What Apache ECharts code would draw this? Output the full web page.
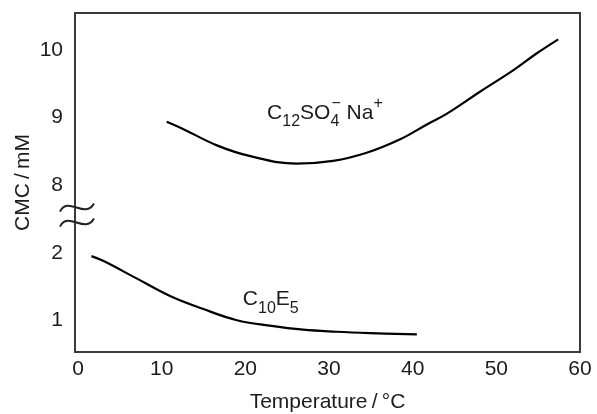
<!DOCTYPE html>
<html>
<head>
<meta charset="utf-8">
<script src="https://cdn.jsdelivr.net/npm/echarts@6/dist/echarts.min.js"></script>
<style>
  html, body { margin: 0; padding: 0; background: #fff; }
  #chart { width: 597px; height: 414px; }
</style>
</head>
<body>
<div id="chart"></div>
<script>
// values (temperature in °C, CMC in mM)
const sdsTemp = [10.6, 12.6, 16.6, 20.6, 26.1, 30.5, 34.5, 38.5, 41.7, 44.1, 48.0, 52.0, 54.8, 57.4];
const sdsCmc = [8.94, 8.83, 8.59, 8.43, 8.32, 8.36, 8.48, 8.68, 8.90, 9.06, 9.38, 9.70, 9.95, 10.16];

const c10Temp = [1.6, 3.0, 7.0, 11.0, 14.9, 19.0, 22.9, 26.9, 30.9, 34.9, 40.5];
const c10Cmc = [1.95, 1.88, 1.62, 1.36, 1.17, 1.00, 0.92, 0.86, 0.83, 0.81, 0.79];

const xTicks = [0, 10, 20, 30, 40, 50, 60];
const yTicks = [1, 2, 8, 9, 10];

// the y axis is broken between 2 and 8: upper values are shifted down by 5
const BREAK_SHIFT = 5;
const toAxis = (v) => (v > 5 ? v - BREAK_SHIFT : v);
const fromAxis = (v) => (v > 2.5 ? v + BREAK_SHIFT : v);

const FONT = 'Liberation Sans, Arial, sans-serif';
const TEXT = '#1c1c1c';
const THIN = '\u2009';

const chart = echarts.init(document.getElementById('chart'));

const pairs = (xs, ys) => xs.map((x, i) => [x, toAxis(ys[i])]);

chart.setOption({
  animation: false,
  grid: {
    left: 75, right: 17, top: 13, bottom: 62,
    outerBoundsMode: 'none',
    containLabel: false,
    show: true, borderColor: '#3a3a3a', borderWidth: 2, backgroundColor: 'transparent',
  },
  xAxis: {
    type: 'value',
    min: -0.36,
    max: 60,
    name: 'Temperature' + THIN + '/' + THIN + '°C',
    nameLocation: 'middle',
    nameGap: 40,
    nameMoveOverlap: false,
    nameTextStyle: { fontFamily: FONT, fontSize: 21, color: TEXT },
    axisLine: { show: false },
    axisTick: { show: false },
    splitLine: { show: false },
    axisLabel: {
      fontFamily: FONT, fontSize: 21, color: TEXT, margin: 7,
      showMinLabel: true, showMaxLabel: true,
      formatter: (v) => (xTicks.includes(Math.round(v * 100) / 100) ? String(v) : ''),
    },
  },
  yAxis: {
    type: 'value',
    min: 0.53,
    max: 5.55,
    name: 'CMC' + THIN + '/' + THIN + 'mM',
    nameLocation: 'middle',
    nameGap: 41,
    nameMoveOverlap: false,
    nameTextStyle: { fontFamily: FONT, fontSize: 21, color: TEXT },
    axisLine: { show: false },
    axisTick: { show: false },
    splitLine: { show: false },
    axisLabel: {
      fontFamily: FONT, fontSize: 21, color: TEXT, margin: 12,
      formatter: (v) => {
        const real = Math.round(fromAxis(v) * 100) / 100;
        return yTicks.includes(real) ? String(real) : '';
      },
    },
  },
  series: [
    {
      name: 'C12SO4- Na+',
      type: 'line',
      data: pairs(sdsTemp, sdsCmc),
      smooth: 0.4,
      symbol: 'none',
      lineStyle: { color: '#000', width: 2.2 },
    },
    {
      name: 'C10E5',
      type: 'line',
      data: pairs(c10Temp, c10Cmc),
      smooth: 0.4,
      symbol: 'none',
      lineStyle: { color: '#000', width: 2.2 },
    },
  ],
});

// curve labels and the break mark on the y axis
const labelAnchors = {
  sds: [22.6, toAxis(9.07)],
  c10: [19.7, 1.31],
};
const rich = {
  m: { fontFamily: FONT, fontSize: 21, lineHeight: 34, verticalAlign: 'middle', fill: TEXT },
  b: { fontFamily: FONT, fontSize: 16, lineHeight: 22, verticalAlign: 'bottom', fill: TEXT },
  bz: { fontFamily: FONT, fontSize: 16, lineHeight: 22, verticalAlign: 'bottom', width: 1, fill: TEXT },
  p: { fontFamily: FONT, fontSize: 16, lineHeight: 22, verticalAlign: 'top', fill: TEXT },
};
const px = (pt) => chart.convertToPixel({ gridIndex: 0 }, pt);
const sdsPos = px(labelAnchors.sds);
const c10Pos = px(labelAnchors.c10);
const brk = px([-0.36, 2.55]);

const tilde = (dy) => ({
  type: 'bezierCurve',
  shape: {
    x1: brk[0] - 15, y1: brk[1] + dy + 4,
    cpx1: brk[0] - 7, cpy1: brk[1] + dy - 12,
    cpx2: brk[0] + 10, cpy2: brk[1] + dy + 12,
    x2: brk[0] + 19, y2: brk[1] + dy - 4,
  },
  style: { stroke: '#222', lineWidth: 2, fill: null },
  z: 10,
});

chart.setOption({
  graphic: [
    {
      type: 'text', x: sdsPos[0], y: sdsPos[1],
      style: {
        text: '{m|C}{b|12}{m|SO}{bz|4}{p|−}{m| Na}{p|+}',
        rich, verticalAlign: 'middle', align: 'left',
      },
    },
    {
      type: 'text', x: c10Pos[0], y: c10Pos[1],
      style: {
        text: '{m|C}{b|10}{m|E}{b|5}',
        rich, verticalAlign: 'middle', align: 'left',
      },
    },
    tilde(-8),
    tilde(7),
  ],
});
</script>
</body>
</html>
